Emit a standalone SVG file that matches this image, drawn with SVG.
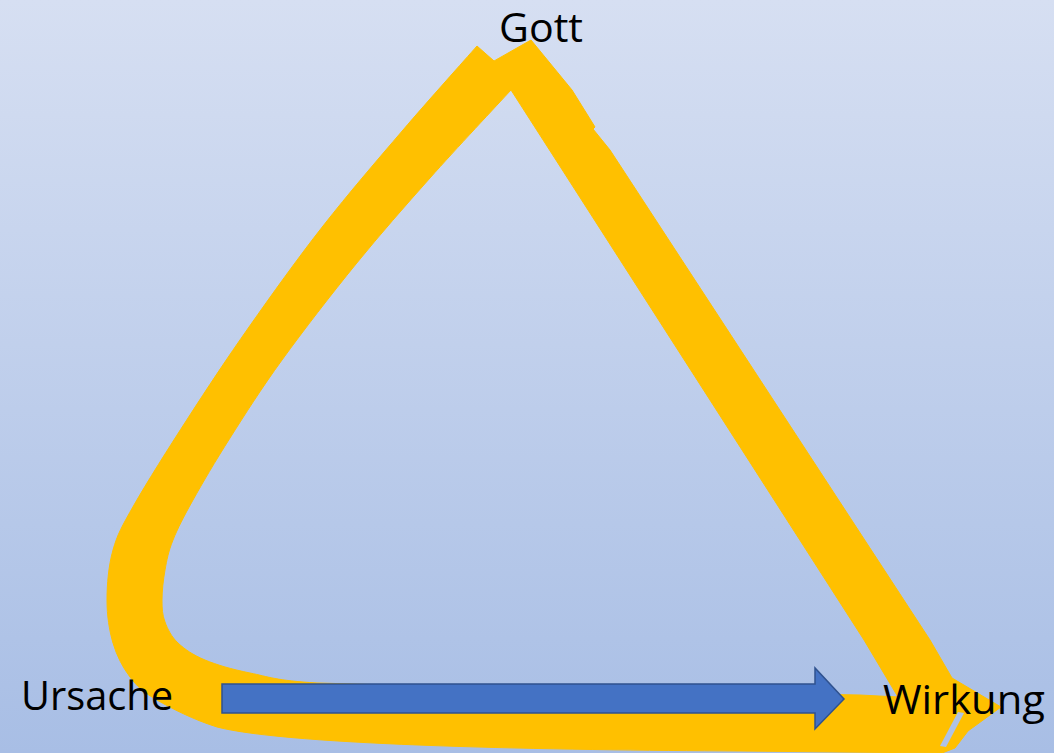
<svg xmlns="http://www.w3.org/2000/svg" width="1054" height="753" viewBox="0 0 1054 753">
  <defs>
    <linearGradient id="bg" x1="0" y1="0" x2="0" y2="1">
      <stop offset="0" stop-color="#D6DFF2"/>
      <stop offset="1" stop-color="#A8BEE5"/>
    </linearGradient>
    <style>
      .label { font-family: "Open Sans", "Liberation Sans", sans-serif; font-size: 40px; fill: #000000; }
      .loop { fill: #FFC000; fill-rule: evenodd; stroke: #FFC000; stroke-width: 1; stroke-linejoin: round; }
      .gap { fill: #AEC2E6; }
      .arrow { fill: #4472C4; stroke: #2F528F; stroke-width: 1.5; }
    </style>
  </defs>
  <rect x="0" y="0" width="1054" height="753" fill="url(#bg)"/>
  <g id="connectors">
    <path class="loop" d="M477,46 L494,61 L531,40 L572,90 L595,127 L593,129 L610,150 L930,640 L952,678 L1001,707 L968,731 L955,748 L942,753 L840,752 L739,751 C560,750 290,746 217,727 C193,719.5 171.5,708.3 157,700 C142.5,691.7 137.3,686.5 130,677 C122.7,667.5 116.8,655.8 113,643 C109.2,630.2 107,615.5 107,600 C107,584.5 108.5,565.8 113,550 C117.5,534.2 121.5,527 134,505 C146.5,483 168.8,447.7 188,418 C207.2,388.3 226.5,359 249,327 C271.5,295 297.3,258.8 323,226 C348.7,193.2 377.3,160 403,130 C428.7,100 464.7,60 477,46 Z M511,90 L864,640 L898,697 L860,695 L700,692 L500,688 L317,683 C275.3,680.5 268.7,676.8 250,673 C231.3,669.2 217,665 205,660 C193,655 184.7,649.3 178,643 C171.3,636.7 167.7,629.2 165,622 C162.3,614.8 162,608.7 162,600 C162,591.3 163.2,580 165,570 C166.8,560 168.3,551.7 173,540 C177.7,528.3 183.5,517 193,500 C202.5,483 215.2,461.3 230,438 C244.8,414.7 261,389 282,360 C303,331 331.3,294.3 356,264 C380.7,233.7 404.2,207 430,178 C455.8,149 497.5,104.7 511,90 Z"/>
    <polygon class="gap" points="958,712 964,713 946,747 940,746"/>
    <polygon class="arrow" points="222,684 815,684 815,668 844,699 815,729 815,713 222,713"/>
  </g>
  <g id="gott">
    <text class="label" x="499" y="42" textLength="84" lengthAdjust="spacingAndGlyphs">Gott</text>
  </g>
  <g id="ursache">
    <text class="label" x="21" y="710" textLength="152" lengthAdjust="spacingAndGlyphs">Ursache</text>
  </g>
  <g id="wirkung">
    <text class="label" x="883" y="714" textLength="162" lengthAdjust="spacingAndGlyphs">Wirkung</text>
  </g>
</svg>
